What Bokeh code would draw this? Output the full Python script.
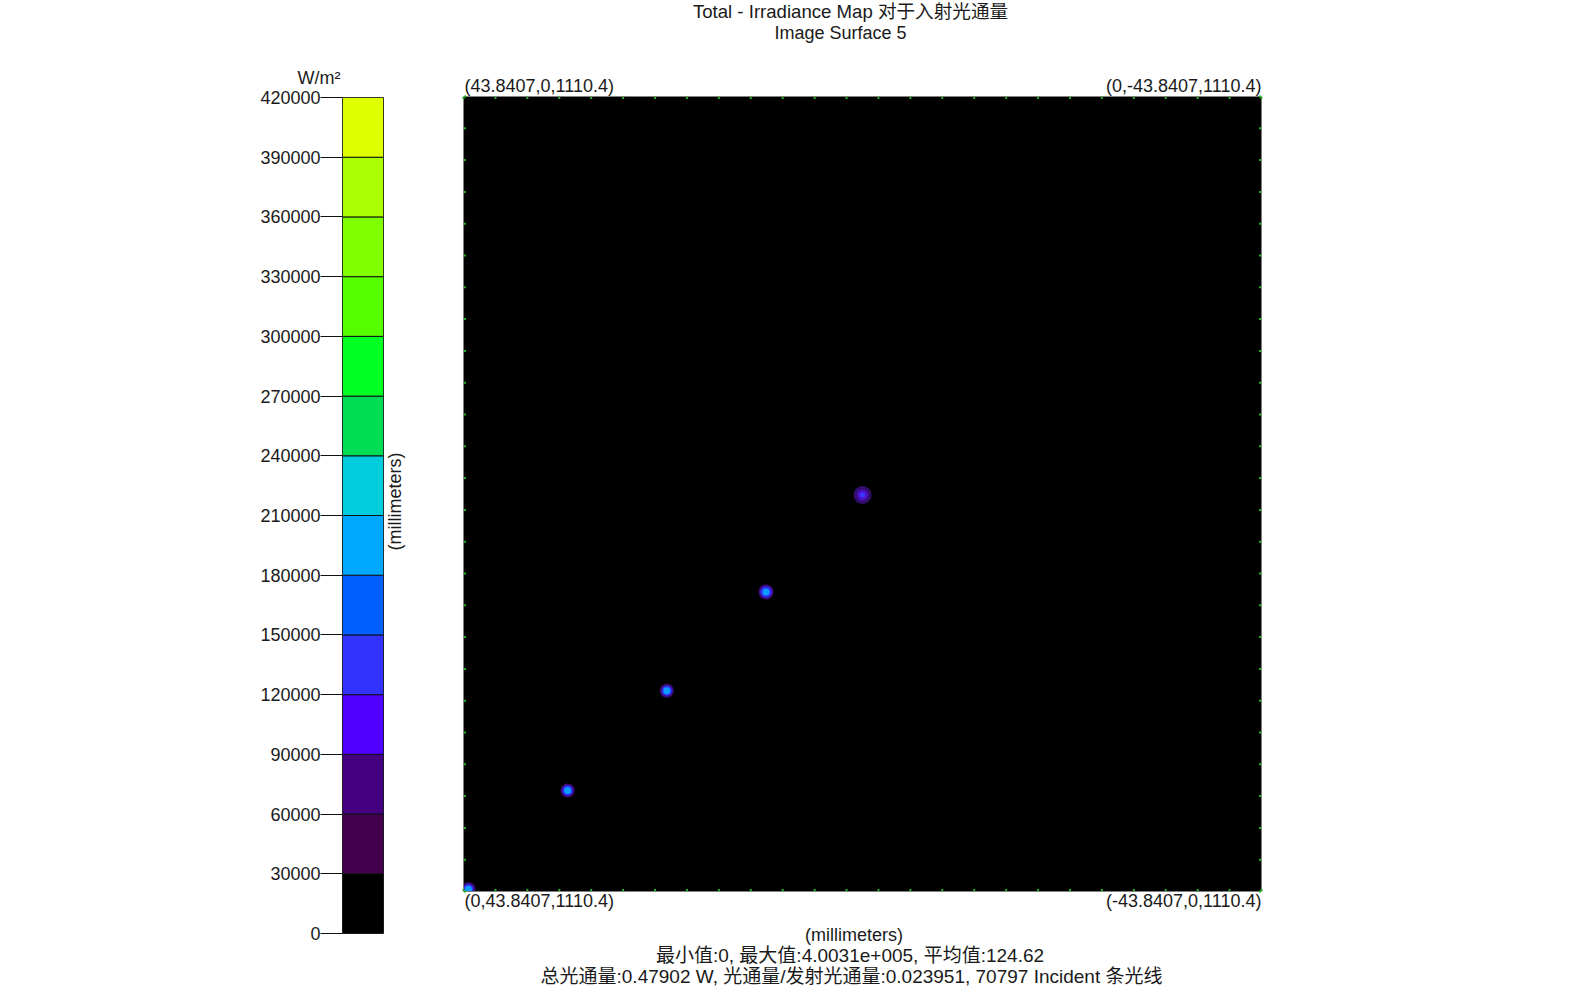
import numpy as np
from bokeh.plotting import figure
from bokeh.layouts import row
from bokeh.models import FixedTicker, BasicTickFormatter, Range1d, Title
from bokeh.core.properties import value
from bokeh.embed import file_html
from bokeh.resources import INLINE

# ---------------- data ----------------
title_1 = "Total - Irradiance Map 对于入射光通量"
title_2 = "Image Surface 5"
stats_1 = "最小值:0, 最大值:4.0031e+005, 平均值:124.62"
stats_2 = "总光通量:0.47902 W, 光通量/发射光通量:0.023951, 70797 Incident 条光线"
corner_tl = "(43.8407,0,1110.4)"
corner_tr = "(0,-43.8407,1110.4)"
corner_bl = "(0,43.8407,1110.4)"
corner_br = "(-43.8407,0,1110.4)"
unit_label = "W/m²"
axis_label = "(millimeters)"

half_width = 43.8407
cb_low, cb_high, cb_step = 0, 420000, 30000
band_colors = ["#000000", "#44004F", "#440080", "#5000FF", "#3333FF", "#0060FF",
               "#00A8FF", "#00CCDD", "#00DD55", "#00FF22", "#55FF00", "#7FFF00",
               "#AAFF00", "#DDFF00"]

spot_x = [-43.3, -32.4, -21.5, -10.6, 0.0]
spot_y = [-43.6, -32.7, -21.7, -10.8, -0.1]
spot_halo_px = [14, 14, 14, 15, 18]
spot_mid_px = [10, 10, 10, 11, 11]
spot_core_px = [7, 7, 7, 7, 5]
spot_halo_color = ["#4A10A0", "#4A10A0", "#4A10A0", "#4A10A0", "#40108A"]
spot_mid_color = ["#3030FF", "#3030FF", "#3030FF", "#3030FF", "#5010C8"]
spot_core_color = ["#0A9CFF", "#0A9CFF", "#0A9CFF", "#0A9CFF", "#3838FF"]

FONT = "Liberation Sans, Noto Sans CJK SC, sans-serif"
TXT = "#1a1a1a"
H = 986

# ---------------- colour bar figure ----------------
CB_W = 384
cb_left, cb_right, cb_top, cb_bot = 342, 383, 97, 933
cb = figure(width=CB_W, height=H, x_range=Range1d(0, 1), y_range=Range1d(cb_low, cb_high),
            output_backend="svg", toolbar_location=None, frame_align=False,
            min_border_left=cb_left, min_border_right=CB_W - cb_right,
            min_border_top=cb_top, min_border_bottom=H - cb_bot,
            x_axis_location=None, y_axis_location="left")
cb.xgrid.visible = False
cb.ygrid.visible = False
cb.outline_line_color = "#333333"
cb.border_fill_color = "white"

band_lo = list(range(cb_low, cb_high, cb_step))
band_hi = [b + cb_step for b in band_lo]
cb.quad(left=0, right=1, bottom=band_lo, top=band_hi, fill_color=band_colors,
        line_color="#111111", line_width=1)

cb_ticks = list(range(cb_low, cb_high + 1, cb_step))
ya = cb.yaxis[0]
ya.ticker = FixedTicker(ticks=cb_ticks)
ya.formatter = BasicTickFormatter(use_scientific=False)
ya.major_tick_out = 22
ya.major_tick_in = 0
ya.major_tick_line_color = "#111111"
ya.minor_tick_line_color = None
ya.axis_line_color = None
ya.major_label_standoff = 0
ya.major_label_text_font = FONT
ya.major_label_text_font_size = "18px"
ya.major_label_text_color = TXT

cb.add_layout(Title(text=unit_label, align="left", offset=-45, standoff=20,
                    text_font=FONT, text_font_size="18px", text_font_style="normal",
                    text_color=TXT), "above")

# ---------------- main map figure (frame covers its whole canvas) ----------------
MW = 1580 - CB_W
fl, fr, ft, fb = 463, 1261, 96, 891  # absolute pixel edges of the map square
kx = 2 * half_width / (fr - fl)
ky = 2 * half_width / (fb - ft)
x_start = -half_width - (fl - CB_W) * kx
x_end = half_width + (1580 - fr) * kx
y_start = -half_width - (H - fb) * ky
y_end = half_width + ft * ky

p = figure(width=MW, height=H, x_range=Range1d(x_start, x_end),
           y_range=Range1d(y_start, y_end), frame_align=False,
           output_backend="svg", toolbar_location=None,
           min_border=0, x_axis_location=None, y_axis_location=None)
p.xgrid.visible = False
p.ygrid.visible = False
p.outline_line_color = None
p.background_fill_color = "white"
p.border_fill_color = "white"


def bx(sx):
    return -half_width + (sx - fl) * kx


def by(sy):
    return -half_width + (fb - sy) * ky


hw = half_width
# map background
p.quad(left=[-hw], right=[hw], bottom=[-hw], top=[hw], fill_color="black", line_color=None)

# spots
p.scatter(x=spot_x, y=spot_y, size=spot_halo_px, fill_color=spot_halo_color,
          line_color=None, fill_alpha=0.8)
p.scatter(x=spot_x, y=spot_y, size=spot_mid_px, fill_color=spot_mid_color,
          line_color=None)
p.scatter(x=spot_x, y=spot_y, size=spot_core_px, fill_color=spot_core_color,
          line_color=None)

# white mask to clip spots to the map square, then the square's outline
m = 8
p.quad(left=[-hw - m * kx], right=[hw + m * kx], bottom=[-hw - m * ky], top=[hw + m * ky],
       fill_color=None, line_color="white", line_width=2 * m)
p.quad(left=[-hw], right=[hw], bottom=[-hw], top=[hw], fill_color=None,
       line_color="#808080", line_width=1)

# green edge tick dots
edge_ticks = list(np.linspace(-hw, hw, 26))
ins_x, ins_y = 1.5 * kx, 1.5 * ky
dot_x = edge_ticks + edge_ticks + [-hw + ins_x] * 26 + [hw - ins_x] * 26
dot_y = [hw - ins_y] * 26 + [-hw + ins_y] * 26 + edge_ticks + edge_ticks
p.scatter(x=dot_x, y=dot_y, marker="square", size=2, fill_color="#20B020",
          line_color=None)

# texts
tf = dict(text_baseline="middle", text_font=value(FONT), text_color=TXT)
p.text(x=[bx(850)], y=[by(10.5)], text=[title_1], text_align="center",
       text_font_size="18.6px", **tf)
p.text(x=[bx(840), bx(853.5)], y=[by(32), by(934)], text=[title_2, axis_label],
       text_align="center", text_font_size="18px", **tf)
p.text(x=[bx(849.5), bx(851)], y=[by(955), by(976)], text=[stats_1, stats_2],
       text_align="center", text_font_size="19px", **tf)
p.text(x=[bx(464), bx(464)], y=[by(85.5), by(900.5)], text=[corner_tl, corner_bl],
       text_align="left", text_font_size="18px", **tf)
p.text(x=[bx(1261), bx(1261)], y=[by(85.5), by(900.5)], text=[corner_tr, corner_br],
       text_align="right", text_font_size="18px", **tf)
p.text(x=[bx(394)], y=[by(501)], text=[axis_label], text_align="center",
       angle=np.pi / 2, text_font_size="18px", **tf)

layout = row(cb, p)
open("out.html", "w").write(file_html(layout, INLINE))
